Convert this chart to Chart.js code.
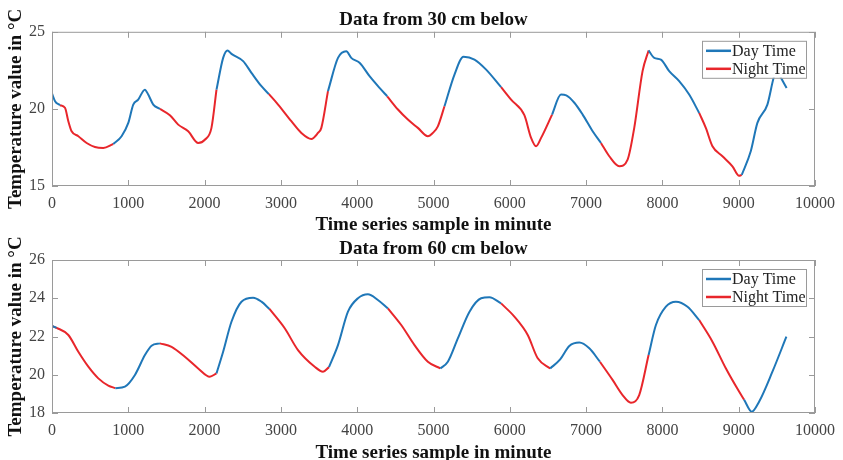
<!DOCTYPE html>
<html>
<head>
<meta charset="utf-8">
<title>Soil temperature, 30 cm and 60 cm</title>
<script src="https://cdn.jsdelivr.net/npm/chart.js@4.4.1/dist/chart.umd.min.js"></script>
<style>
  html, body { margin: 0; padding: 0; background: #fff; }
  canvas { display: block; }
</style>
</head>
<body>
<canvas id="chart30" width="843" height="236"></canvas>
<canvas id="chart60" width="843" height="224"></canvas>
<script>
// ---- data ----
const xTicks = [0, 1000, 2000, 3000, 4000, 5000, 6000, 7000, 8000, 9000, 10000];
const yTicks30 = [15, 20, 25];
const yTicks60 = [18, 20, 22, 24, 26];
const seriesNames = ["Day Time", "Night Time"];

// 30 cm below
const minutes30 = [0, 40, 105, 170, 214, 257, 345, 454, 563, 672, 803, 912, 1000, 1065, 1130, 1217, 1261, 1327, 1414,
  1545, 1654, 1785, 1916, 2003, 2090, 2156, 2243, 2300, 2352, 2505, 2614, 2745, 2841, 2963, 3137, 3268, 3399, 3486,
  3530, 3617, 3748, 3857, 3922, 4031, 4162, 4293, 4393, 4534, 4664, 4795, 4926, 4991, 5057, 5144, 5275, 5393, 5537,
  5690, 5886, 6017, 6191, 6279, 6344, 6410, 6554, 6671, 6740, 6846, 6955, 7086, 7195, 7304, 7435, 7544, 7631, 7740,
  7819, 7893, 7980, 8089, 8220, 8351, 8482, 8569, 8656, 8787, 8918, 9005, 9040, 9158, 9245, 9376, 9463, 9505, 9545, 9628];
const temp30 = [21.0, 20.5, 20.24, 20.07, 19.2, 18.55, 18.23, 17.79, 17.53, 17.47, 17.72, 18.23, 19.09, 20.28, 20.6, 21.25, 20.93, 20.28, 20.0,
  19.59, 18.98, 18.55, 17.79, 18.0, 18.77, 21.25, 23.31, 23.79, 23.57, 23.1, 22.34, 21.47, 20.97, 20.28, 19.2, 18.44, 18.05, 18.44,
  18.77, 21.15, 23.31, 23.74, 23.31, 22.99, 22.12, 21.36, 20.82, 19.96, 19.31, 18.77, 18.23, 18.44, 18.87, 20.17, 22.23, 23.38, 23.2,
  22.55, 21.41, 20.6, 19.59, 18.12, 17.58, 18.12, 19.63, 20.93, 20.88, 20.4, 19.63, 18.55, 17.79, 16.93, 16.28, 16.71, 18.77, 22.45,
  23.79, 23.31, 23.2, 22.45, 21.8, 20.93, 19.74, 18.77, 17.58, 16.93, 16.28, 15.67, 15.72, 17.25, 19.09, 20.28, 22.1, 22.5, 22.1, 21.36];
const dayWindows30 = [[0, 105], [803, 1414], [2156, 2841], [3617, 4393], [5144, 5886], [6554, 7195], [7819, 8482], [9040, 9628]];

// 60 cm below
const minutes60 = [0, 60, 214, 345, 476, 607, 738, 830, 956, 1087, 1218, 1305, 1414, 1567, 1741, 1916, 2068, 2156,
  2243, 2352, 2483, 2636, 2745, 2850, 3050, 3224, 3443, 3552, 3630, 3748, 3879, 4010, 4140, 4271, 4402, 4577, 4751,
  4926, 5090, 5188, 5319, 5472, 5624, 5733, 5886, 6060, 6235, 6366, 6530, 6660, 6780, 6911, 7042, 7181, 7347, 7478,
  7587, 7696, 7819, 7915, 8046, 8177, 8329, 8482, 8656, 8831, 9005, 9070, 9171, 9267, 9442, 9625];
const temp60 = [22.55, 22.45, 22.08, 21.2, 20.42, 19.81, 19.43, 19.3, 19.38, 19.99, 21.03, 21.52, 21.64, 21.46, 20.94, 20.33, 19.9, 20.07,
  21.2, 22.77, 23.82, 24.03, 23.82, 23.44, 22.43, 21.29, 20.42, 20.16, 20.4, 21.55, 23.3, 24.0, 24.21, 23.91, 23.47, 22.6, 21.55,
  20.68, 20.33, 20.68, 21.9, 23.3, 24.0, 24.05, 23.73, 23.04, 22.08, 20.86, 20.33, 20.8, 21.5, 21.68, 21.38, 20.68, 19.73, 18.94,
  18.54, 18.94, 21.03, 22.6, 23.56, 23.82, 23.56, 22.86, 21.73, 20.34, 19.12, 18.7, 18.07, 18.59, 20.16, 21.99];
const dayWindows60 = [[0, 60], [830, 1414], [2156, 2850], [3630, 4402], [5090, 5886], [6530, 7181], [7819, 8482], [9070, 9625]];

// ---- styling ----
const DAY_COLOR = "#1f77b8";
const NIGHT_COLOR = "#e8262b";
const SERIF = "'Liberation Serif', 'Times New Roman', serif";
const BOX_COLOR = "#9a9a9a";

// split one trace into day / night parts that share the boundary samples
function splitDayNight(minutes, temps, windows) {
  const day = [], night = [];
  minutes.forEach((m, i) => {
    const inside = windows.some(([a, b]) => m > a && m < b);
    const edge = windows.some(([a, b]) => m === a || m === b);
    day.push({ x: m, y: (inside || edge) ? temps[i] : null });
    night.push({ x: m, y: inside ? null : temps[i] });
  });
  return { day, night };
}

// MATLAB-like box: frame, inward ticks on all sides, legend in the top-right corner
const boxPlugin = {
  id: "matlabBox",
  afterDraw(chart) {
    const { ctx, chartArea: a, scales } = chart;
    ctx.save();
    ctx.strokeStyle = BOX_COLOR;
    ctx.lineWidth = 1;
    ctx.strokeRect(a.left + 0.5, a.top + 0.5, a.width - 1, a.height - 1);
    ctx.beginPath();
    scales.x.ticks.forEach(t => {
      const px = Math.round(scales.x.getPixelForValue(t.value)) + 0.5;
      ctx.moveTo(px, a.bottom); ctx.lineTo(px, a.bottom - 6);
      ctx.moveTo(px, a.top); ctx.lineTo(px, a.top + 6);
    });
    scales.y.ticks.forEach(t => {
      const py = Math.round(scales.y.getPixelForValue(t.value)) + 0.5;
      ctx.moveTo(a.left, py); ctx.lineTo(a.left + 6, py);
      ctx.moveTo(a.right, py); ctx.lineTo(a.right - 6, py);
    });
    ctx.stroke();

    // legend
    const w = 104, h = 37;
    const lx = a.right - 9 - w, ly = a.top + 9;
    ctx.fillStyle = "#fff";
    ctx.fillRect(lx, ly, w, h);
    ctx.strokeStyle = BOX_COLOR;
    ctx.strokeRect(lx + 0.5, ly + 0.5, w, h);
    ctx.font = "16px " + SERIF;
    ctx.textBaseline = "middle";
    chart.data.datasets.forEach((ds, i) => {
      const cy = ly + 10 + i * 18;
      ctx.strokeStyle = ds.borderColor;
      ctx.lineWidth = 2.5;
      ctx.beginPath();
      ctx.moveTo(lx + 4, cy); ctx.lineTo(lx + 29, cy);
      ctx.stroke();
      ctx.fillStyle = "#222";
      ctx.fillText(ds.label, lx + 30, cy + 1);
    });
    ctx.restore();
  }
};

function makeChart(id, title, minutes, temps, windows, yTicks, xHeight, titlePad, xTitleLine) {
  const parts = splitDayNight(minutes, temps, windows);
  const common = { borderWidth: 2, pointRadius: 0, spanGaps: false, cubicInterpolationMode: "monotone" };
  new Chart(document.getElementById(id), {
    type: "line",
    data: {
      datasets: [
        Object.assign({ label: seriesNames[0], data: parts.day, borderColor: DAY_COLOR }, common),
        Object.assign({ label: seriesNames[1], data: parts.night, borderColor: NIGHT_COLOR }, common)
      ]
    },
    options: {
      responsive: false,
      animation: false,
      events: [],
      layout: { padding: { left: 0, right: 27, top: 0, bottom: 0 } },
      plugins: {
        legend: { display: false },
        tooltip: { enabled: false },
        title: {
          display: true,
          fullSize: false,
          text: title,
          color: "#111",
          font: { family: SERIF, size: 19, weight: "bold", lineHeight: 1.2 },
          padding: titlePad
        }
      },
      scales: {
        x: {
          type: "linear",
          min: xTicks[0],
          max: xTicks[xTicks.length - 1],
          afterBuildTicks: s => { s.ticks = xTicks.map(v => ({ value: v })); },
          afterFit: s => { s.height = xHeight; },
          grid: { display: false, tickLength: 0, drawTicks: false },
          border: { display: false },
          ticks: { color: "#444", padding: 8, maxRotation: 0, font: { family: SERIF, size: 16 }, callback: v => String(v) },
          title: {
            display: true,
            text: "Time series sample in minute",
            color: "#111",
            font: { family: SERIF, size: 19, weight: "bold", lineHeight: xTitleLine },
            padding: { top: 0, bottom: 0 }
          }
        },
        y: {
          min: yTicks[0],
          max: yTicks[yTicks.length - 1],
          afterBuildTicks: s => { s.ticks = yTicks.map(v => ({ value: v })); },
          afterFit: s => { s.width = 52; },
          grid: { display: false, tickLength: 0, drawTicks: false },
          border: { display: false },
          ticks: { color: "#444", padding: 7, font: { family: SERIF, size: 16 }, callback: v => String(v) },
          title: {
            display: true,
            text: "Temperature value in °C",
            color: "#111",
            font: { family: SERIF, size: 19, weight: "bold", lineHeight: 1 },
            padding: { top: 7, bottom: 0 }
          }
        }
      }
    },
    plugins: [boxPlugin]
  });
}

makeChart("chart30", "Data from 30 cm below", minutes30, temp30, dayWindows30, yTicks30, 50, { top: 9, bottom: 0 }, 1.1);
makeChart("chart60", "Data from 60 cm below", minutes60, temp60, dayWindows60, yTicks60, 47, { top: 1.2, bottom: 0 }, 0.7);
</script>
</body>
</html>
